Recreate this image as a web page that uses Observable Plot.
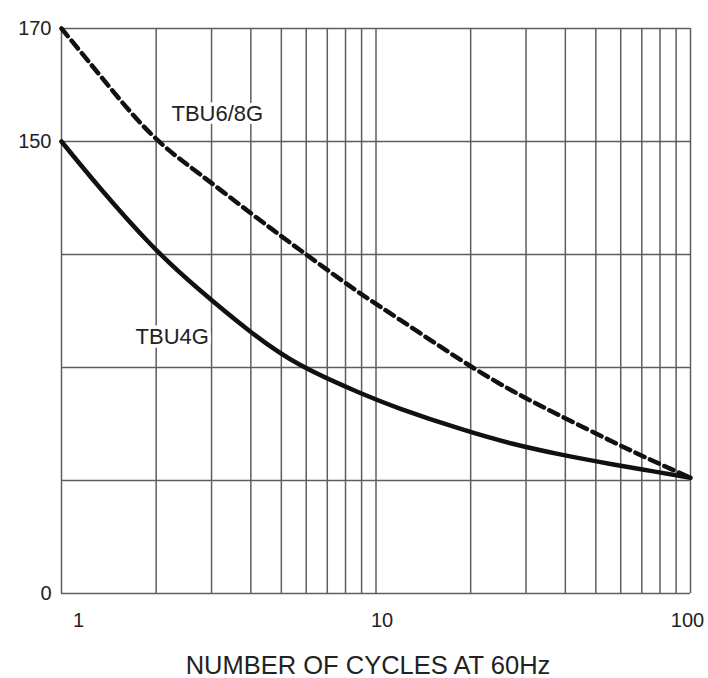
<!DOCTYPE html>
<html>
<head>
<meta charset="utf-8">
<script src="https://cdn.jsdelivr.net/npm/d3@7"></script>
<script src="https://cdn.jsdelivr.net/npm/@observablehq/plot@0.6"></script>
<style>
  html, body { margin: 0; padding: 0; background: #fff; }
  #chart { width: 708px; height: 678px; }
</style>
</head>
<body>
<div id="chart"></div>
<script>
// ---- data ----
const xTickLabels = [1, 10, 100];
const yTickLabels = [0, 150, 170];
const xGrid = [1, 2, 3, 4, 5, 6, 7, 8, 9, 10, 20, 30, 40, 50, 60, 70, 80, 90, 100];
const yGrid = [0, 37.5, 75, 112.5, 150, 170];

const tbu4gCycles = [1, 1.33, 1.92, 2.71, 4, 5.75, 8.61, 11.97, 18.6, 27.2, 39.2, 55.7, 74.6, 100];
const tbu4gValues = [150, 134.4, 115.9, 101.3, 86.8, 75.8, 67.2, 61.3, 54.6, 49.7, 46.0, 43.0, 40.7, 38.4];

const tbu68gCycles = [1, 1.33, 1.905, 2.71, 4, 5.75, 8.61, 11.97, 18.6, 27.2, 39.2, 55.7, 74.6, 100];
const tbu68gValues = [170, 161.6, 151.6, 139.7, 126.2, 113.9, 100.7, 90.7, 77.5, 67.2, 58.6, 50.7, 44.4, 38.4];

const seriesLabels = ["TBU6/8G", "TBU4G"];
const labelCycles = [3.13, 2.25];
const labelValues = [154.8, 85.1];

const xLabel = "NUMBER OF CYCLES AT 60Hz";

// ---- build tables ----
const tbu4g = tbu4gCycles.map((c, i) => ({cycles: c, value: tbu4gValues[i]}));
const tbu68g = tbu68gCycles.map((c, i) => ({cycles: c, value: tbu68gValues[i]}));
const labels = seriesLabels.map((s, i) => ({name: s, cycles: labelCycles[i], value: labelValues[i]}));

const width = 708, height = 678;
const marginTop = 28, marginBottom = 85, marginLeft = 61, marginRight = 18;
const bottom = height - marginBottom;
const mid = marginTop + (bottom - marginTop) / 5;

const gridColor = "#5e5e5e";

const chart = Plot.plot({
  width, height, marginTop, marginBottom, marginLeft, marginRight,
  style: {fontFamily: "'Liberation Sans', Arial, sans-serif", fontSize: "20px", color: "#222", background: "#fff"},
  x: {type: "log", domain: [1, 100]},
  y: {type: "linear", domain: [0, 150, 170], range: [bottom, mid, marginTop]},
  marks: [
    Plot.ruleX(xGrid, {stroke: gridColor, strokeWidth: 1.5}),
    Plot.ruleY(yGrid, {stroke: gridColor, strokeWidth: 1.5}),
    Plot.line(tbu68g, {x: "cycles", y: "value", curve: "natural", stroke: "#111", strokeWidth: 4.5, strokeDasharray: "10,6"}),
    Plot.line(tbu4g, {x: "cycles", y: "value", curve: "natural", stroke: "#111", strokeWidth: 4.5}),
    Plot.text(labels, {x: "cycles", y: "value", text: "name", fontSize: 22, fill: "#222", stroke: "white", strokeWidth: 7, paintOrder: "stroke"}),
    Plot.axisY(yTickLabels, {tickSize: 0, tickPadding: 10, fontSize: 20, label: null}),
    Plot.axisX([xTickLabels[0]], {tickSize: 0, tickPadding: 19, dx: 17, fontSize: 20, label: null, tickFormat: d => String(d)}),
    Plot.axisX([xTickLabels[1]], {tickSize: 0, tickPadding: 19, dx: 6, fontSize: 20, label: null, tickFormat: d => String(d)}),
    Plot.axisX([xTickLabels[2]], {tickSize: 0, tickPadding: 19, dx: -3, fontSize: 20, label: xLabel, labelAnchor: "center", labelOffset: 80, labelArrow: "none", tickFormat: d => String(d)})
  ]
});
document.getElementById("chart").appendChild(chart);
// enlarge the axis title and centre it like the reference
chart.querySelectorAll("g[aria-label='x-axis label'] text").forEach(t => {
  t.setAttribute("font-size", "25.5");
  t.setAttribute("dx", "-8");
});
</script>
</body>
</html>
